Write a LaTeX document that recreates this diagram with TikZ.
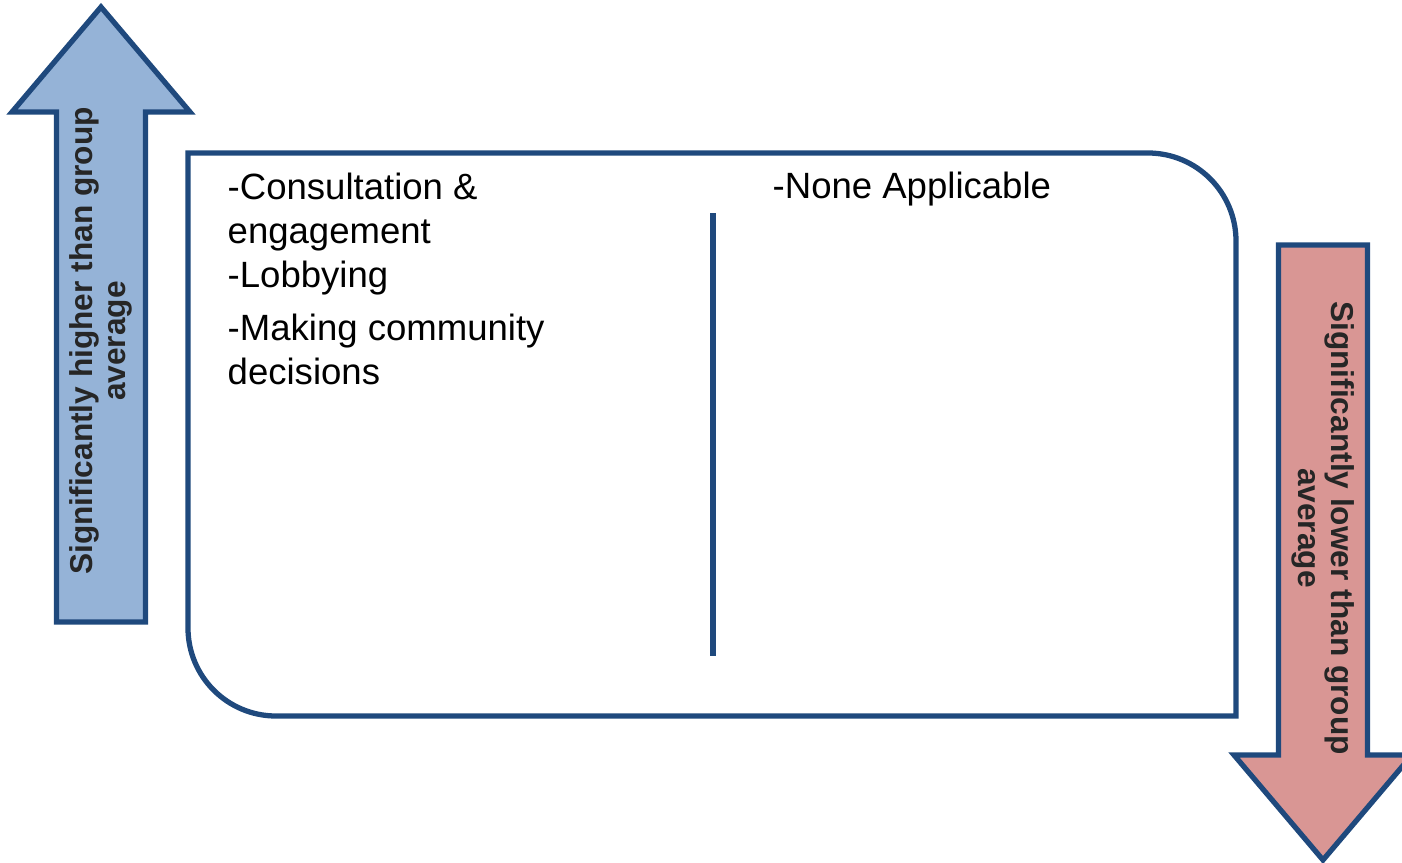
\documentclass[tikz,border=0pt]{standalone}
\usepackage{fontspec}
\setmainfont{Liberation Sans}
\usetikzlibrary{calc, positioning}
\definecolor{edgeblue}{RGB}{31,73,125}
\definecolor{upfill}{RGB}{149,179,215}
\definecolor{downfill}{RGB}{217,150,148}
\def\hw{0.89}
\def\hh{1.05}
\def\sw{0.445}
\def\al{6.15}
\def\cornerr{0.88}
\tikzset{
    border/.style = {
        draw=edgeblue, line width=1.5pt, line join=miter
    },
    listtext/.style = {
        align=left, inner sep=0pt, font=\fontsize{10.4}{12.5}\selectfont
    },
    arrowtext/.style = {
        align=center, inner sep=0pt, text=black!85,
        font=\fontsize{9}{9.4}\selectfont\bfseries
    },
    pics/BlockArrow/.style ={
        code = {
            \draw[border, fill=#1] (0,0) -- (\hw,-\hh) -- (\sw,-\hh) -- (\sw,-\al)
                -- (-\sw,-\al) -- (-\sw,-\hh) -- (-\hw,-\hh) -- cycle;
    }}
    }
\begin{document}
\begin{tikzpicture}
        \useasboundingbox (0,0) rectangle (14.02,8.62);
        % The two arrows
        \pic at (1.01,8.55) {BlockArrow={upfill}};
        \pic[rotate=180] at (13.23,0.02) {BlockArrow={downfill}};
        \node[arrowtext, rotate=90] (uplabel) at (1.01,5.21) {Significantly higher than group\\average};
        \node[arrowtext, rotate=-90] (downlabel) at (13.23,3.34) {Significantly lower than group\\average};
        % The box with the divider
        \draw[border] (1.88,7.09) -- (12.36-\cornerr,7.09) arc(90:0:\cornerr) -- (12.36,1.46)
            -- (1.88+\cornerr,1.46) arc(270:180:\cornerr) -- cycle;
        \draw[border] (7.13,6.49) coordinate (divtop) -- (7.13,2.06) coordinate (divbottom);
        % Place the texts
        \node[listtext, anchor=base west] (highlist) at (2.27,4.78) {-Consultation \&\\engagement\\-Lobbying\\[2.5pt]-Making community\\decisions};
        \node[listtext, anchor=base west] (nonelist) at (7.72,6.64) {-None Applicable};
    \end{tikzpicture}
\end{document}
